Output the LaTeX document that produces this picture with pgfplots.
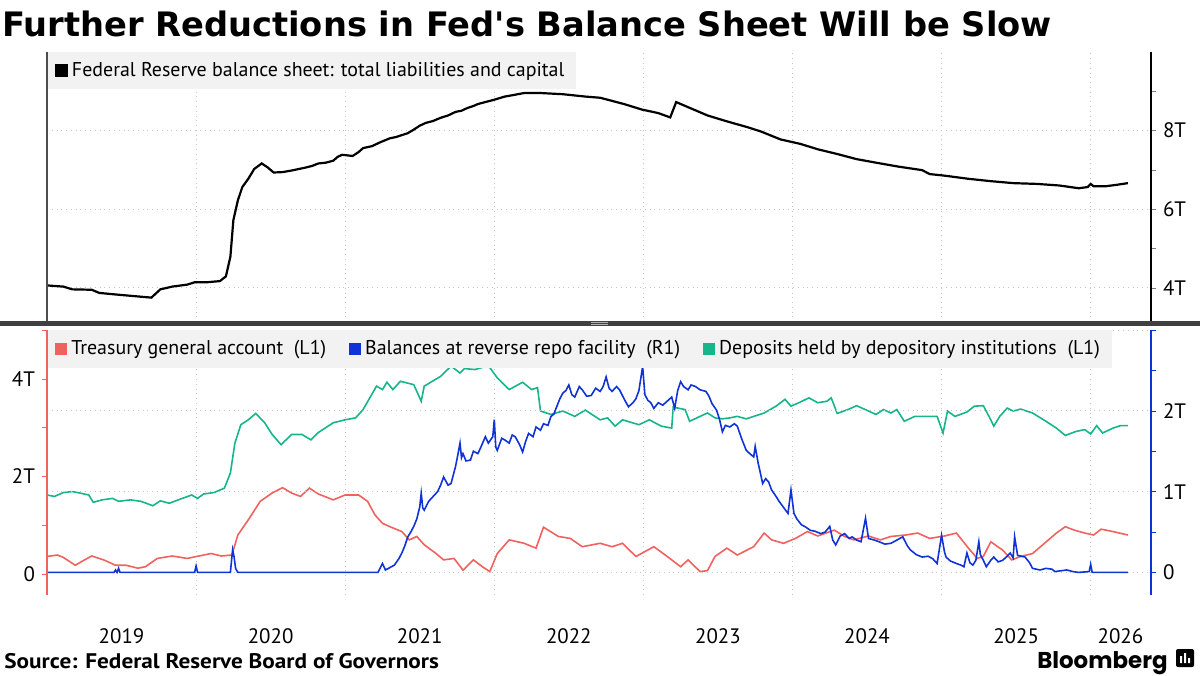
\documentclass[border=0pt]{standalone}
\usepackage{pgfplots}
\pgfplotsset{compat=1.18}
\usepackage{fontspec}
\setmainfont{PT Sans}
\newfontfamily\titlefont{DejaVu Sans}
\newfontfamily\sourcefont{PT Sans}[FakeStretch=1.1]
\newfontfamily\logofont{Poppins}

\definecolor{tga}{HTML}{F0625F}
\definecolor{rrp}{HTML}{0F33D6}
\definecolor{dep}{HTML}{17B58A}
\definecolor{gridc}{HTML}{C4C4C4}
\definecolor{legbg}{HTML}{F2F2F2}

% Fed total liabilities and capital, trillions
\pgfplotstableread{
x y
2019.00 4.06
2019.11 4.03
2019.17 3.96
2019.30 3.95
2019.35 3.87
2019.46 3.83
2019.58 3.79
2019.70 3.75
2019.76 3.96
2019.84 4.03
2019.94 4.08
2019.99 4.14
2020.07 4.14
2020.16 4.17
2020.20 4.29
2020.23 4.79
2020.25 5.72
2020.28 6.22
2020.31 6.56
2020.35 6.77
2020.39 7.02
2020.44 7.16
2020.48 7.06
2020.52 6.93
2020.58 6.94
2020.64 6.98
2020.69 7.02
2020.74 7.06
2020.78 7.10
2020.82 7.16
2020.87 7.18
2020.92 7.23
2020.95 7.33
2020.98 7.38
2021.05 7.35
2021.09 7.45
2021.12 7.55
2021.18 7.60
2021.23 7.69
2021.30 7.80
2021.34 7.83
2021.38 7.88
2021.42 7.93
2021.46 8.02
2021.50 8.12
2021.54 8.19
2021.59 8.24
2021.64 8.32
2021.69 8.38
2021.74 8.47
2021.78 8.50
2021.82 8.57
2021.86 8.62
2021.89 8.67
2021.95 8.73
2022.00 8.78
2022.07 8.86
2022.13 8.90
2022.20 8.95
2022.31 8.95
2022.46 8.92
2022.61 8.86
2022.71 8.83
2022.87 8.67
2022.99 8.53
2023.10 8.44
2023.18 8.33
2023.22 8.72
2023.30 8.59
2023.43 8.38
2023.56 8.23
2023.70 8.08
2023.79 7.97
2023.92 7.77
2024.05 7.66
2024.17 7.52
2024.30 7.40
2024.43 7.27
2024.56 7.18
2024.71 7.08
2024.87 6.99
2024.92 6.89
2025.02 6.85
2025.18 6.77
2025.33 6.71
2025.48 6.66
2025.64 6.64
2025.79 6.60
2025.92 6.53
2025.98 6.56
2026.00 6.64
2026.02 6.58
2026.10 6.58
2026.18 6.62
2026.25 6.66
}\fedtable

% Treasury general account (left axis)
\pgfplotstableread{
x y
2019.00 0.36
2019.07 0.39
2019.11 0.34
2019.19 0.18
2019.24 0.27
2019.30 0.37
2019.38 0.29
2019.46 0.18
2019.53 0.18
2019.61 0.12
2019.66 0.15
2019.74 0.32
2019.84 0.37
2019.94 0.32
2020.02 0.37
2020.10 0.42
2020.17 0.37
2020.24 0.39
2020.28 0.80
2020.35 1.11
2020.43 1.49
2020.51 1.66
2020.58 1.77
2020.64 1.66
2020.70 1.59
2020.76 1.76
2020.82 1.64
2020.92 1.52
2021.00 1.62
2021.09 1.62
2021.15 1.49
2021.20 1.21
2021.25 1.04
2021.30 0.97
2021.38 0.87
2021.43 0.70
2021.48 0.77
2021.53 0.60
2021.61 0.42
2021.66 0.29
2021.73 0.32
2021.79 0.08
2021.86 0.29
2021.92 0.15
2021.97 0.05
2022.02 0.42
2022.10 0.70
2022.20 0.63
2022.28 0.53
2022.33 0.96
2022.43 0.77
2022.51 0.73
2022.59 0.56
2022.71 0.63
2022.79 0.56
2022.86 0.63
2022.95 0.36
2023.07 0.56
2023.16 0.36
2023.25 0.15
2023.30 0.29
2023.38 0.05
2023.43 0.07
2023.48 0.36
2023.56 0.53
2023.63 0.39
2023.74 0.56
2023.81 0.84
2023.86 0.70
2023.94 0.63
2024.02 0.73
2024.10 0.87
2024.17 0.78
2024.28 0.90
2024.35 0.77
2024.41 0.70
2024.51 0.78
2024.59 0.70
2024.66 0.77
2024.76 0.80
2024.84 0.84
2024.92 0.73
2025.02 0.78
2025.10 0.84
2025.18 0.53
2025.24 0.32
2025.28 0.36
2025.33 0.66
2025.41 0.49
2025.47 0.29
2025.53 0.36
2025.61 0.42
2025.69 0.63
2025.77 0.84
2025.83 0.97
2025.89 0.90
2025.96 0.84
2026.02 0.80
2026.07 0.92
2026.15 0.87
2026.25 0.80
}\tgatable

% Deposits held by depository institutions (left axis)
\pgfplotstableread{
x y
2019.00 1.62
2019.05 1.59
2019.11 1.67
2019.17 1.69
2019.22 1.66
2019.28 1.62
2019.31 1.47
2019.37 1.52
2019.44 1.55
2019.48 1.49
2019.56 1.52
2019.63 1.49
2019.71 1.40
2019.76 1.50
2019.82 1.45
2019.89 1.53
2019.97 1.62
2020.01 1.55
2020.05 1.64
2020.12 1.67
2020.19 1.76
2020.23 2.07
2020.26 2.68
2020.30 3.06
2020.35 3.16
2020.40 3.29
2020.46 3.10
2020.51 2.86
2020.57 2.65
2020.64 2.86
2020.71 2.86
2020.77 2.75
2020.82 2.90
2020.92 3.10
2021.00 3.16
2021.07 3.20
2021.12 3.37
2021.21 3.85
2021.25 3.78
2021.28 3.93
2021.32 3.78
2021.37 3.95
2021.46 3.88
2021.51 3.54
2021.53 3.85
2021.64 4.05
2021.71 4.26
2021.77 4.12
2021.80 4.21
2021.87 4.19
2021.95 4.26
2021.97 4.23
2022.02 4.02
2022.10 3.78
2022.19 3.93
2022.25 3.78
2022.29 3.82
2022.31 3.34
2022.38 3.27
2022.46 3.34
2022.54 3.23
2022.61 3.36
2022.71 3.16
2022.76 3.20
2022.81 3.03
2022.86 3.16
2022.97 3.06
2023.04 3.16
2023.12 3.03
2023.19 2.99
2023.20 3.42
2023.28 3.37
2023.31 3.13
2023.38 3.23
2023.43 3.30
2023.48 3.20
2023.53 3.18
2023.58 3.20
2023.63 3.23
2023.69 3.18
2023.74 3.23
2023.81 3.30
2023.89 3.44
2023.95 3.58
2023.99 3.44
2024.05 3.52
2024.11 3.61
2024.17 3.51
2024.23 3.54
2024.26 3.61
2024.30 3.29
2024.38 3.38
2024.43 3.45
2024.51 3.34
2024.56 3.27
2024.61 3.37
2024.66 3.30
2024.70 3.37
2024.75 3.13
2024.82 3.23
2024.89 3.23
2024.97 3.23
2025.01 2.89
2025.04 3.34
2025.09 3.23
2025.17 3.32
2025.22 3.44
2025.28 3.45
2025.33 3.16
2025.35 3.03
2025.39 3.23
2025.44 3.40
2025.48 3.34
2025.53 3.38
2025.61 3.30
2025.70 3.13
2025.77 2.99
2025.83 2.84
2025.90 2.92
2025.96 2.96
2026.00 2.87
2026.04 3.04
2026.08 2.89
2026.15 2.99
2026.20 3.04
2026.25 3.04
}\deptable

% Balances at reverse repo facility (right axis)
\pgfplotstableread{
x y
2019.00 0.00
2019.45 0.00
2019.46 0.03
2019.47 0.00
2019.48 0.05
2019.49 0.00
2019.99 0.00
2020.00 0.08
2020.01 0.00
2020.23 0.00
2020.245 0.28
2020.255 0.19
2020.265 0.05
2020.28 0.00
2021.22 0.00
2021.25 0.11
2021.27 0.03
2021.30 0.06
2021.33 0.09
2021.36 0.17
2021.38 0.24
2021.40 0.33
2021.42 0.44
2021.44 0.50
2021.46 0.57
2021.48 0.66
2021.50 0.81
2021.51 0.98
2021.52 0.80
2021.53 0.77
2021.56 0.88
2021.59 0.94
2021.62 1.00
2021.64 1.08
2021.66 1.18
2021.69 1.08
2021.71 1.10
2021.74 1.31
2021.755 1.45
2021.77 1.60
2021.78 1.42
2021.79 1.47
2021.81 1.38
2021.84 1.39
2021.86 1.50
2021.89 1.47
2021.91 1.55
2021.94 1.68
2021.96 1.60
2021.99 1.68
2022.00 1.89
2022.01 1.55
2022.02 1.51
2022.05 1.66
2022.07 1.64
2022.10 1.60
2022.12 1.70
2022.14 1.68
2022.17 1.58
2022.19 1.49
2022.21 1.62
2022.23 1.72
2022.26 1.68
2022.28 1.80
2022.31 1.76
2022.33 1.84
2022.36 1.82
2022.38 1.93
2022.40 1.96
2022.41 2.01
2022.44 2.15
2022.46 2.22
2022.48 2.25
2022.50 2.32
2022.52 2.20
2022.54 2.17
2022.57 2.30
2022.59 2.26
2022.62 2.18
2022.65 2.19
2022.68 2.28
2022.71 2.24
2022.73 2.30
2022.75 2.42
2022.77 2.28
2022.79 2.24
2022.82 2.30
2022.84 2.26
2022.87 2.15
2022.90 2.05
2022.93 2.10
2022.95 2.15
2022.97 2.25
2022.995 2.55
2023.01 2.20
2023.03 2.13
2023.05 2.10
2023.07 2.03
2023.10 2.10
2023.13 2.07
2023.16 2.12
2023.19 2.17
2023.21 2.03
2023.23 2.25
2023.25 2.36
2023.27 2.30
2023.30 2.26
2023.32 2.32
2023.35 2.30
2023.38 2.26
2023.42 2.24
2023.44 2.18
2023.46 2.09
2023.49 2.01
2023.51 1.90
2023.53 1.74
2023.55 1.82
2023.58 1.80
2023.61 1.84
2023.63 1.81
2023.66 1.65
2023.69 1.51
2023.72 1.46
2023.74 1.43
2023.75 1.56
2023.77 1.35
2023.78 1.27
2023.80 1.10
2023.82 1.16
2023.84 1.12
2023.86 1.02
2023.89 0.94
2023.91 0.88
2023.93 0.83
2023.95 0.78
2023.97 0.73
2023.99 1.02
2024.01 0.73
2024.03 0.66
2024.06 0.59
2024.09 0.56
2024.12 0.52
2024.15 0.51
2024.19 0.48
2024.22 0.50
2024.25 0.57
2024.27 0.40
2024.29 0.34
2024.32 0.45
2024.35 0.48
2024.38 0.42
2024.40 0.44
2024.43 0.40
2024.46 0.38
2024.49 0.67
2024.51 0.42
2024.55 0.40
2024.58 0.38
2024.62 0.35
2024.66 0.36
2024.70 0.40
2024.74 0.44
2024.77 0.33
2024.79 0.28
2024.83 0.22
2024.87 0.19
2024.91 0.20
2024.94 0.17
2024.97 0.11
2025.00 0.46
2025.02 0.25
2025.03 0.19
2025.06 0.14
2025.10 0.11
2025.13 0.09
2025.15 0.07
2025.17 0.24
2025.19 0.12
2025.21 0.09
2025.23 0.15
2025.25 0.38
2025.26 0.22
2025.28 0.15
2025.30 0.07
2025.33 0.15
2025.35 0.19
2025.38 0.13
2025.41 0.15
2025.44 0.20
2025.46 0.24
2025.48 0.18
2025.49 0.44
2025.51 0.21
2025.56 0.19
2025.59 0.12
2025.61 0.05
2025.66 0.03
2025.70 0.05
2025.74 0.04
2025.76 0.01
2025.80 0.02
2025.84 0.03
2025.88 0.01
2025.92 0.00
2025.99 0.01
2026.00 0.10
2026.01 0.00
2026.25 0.00
}\rrptable

\pgfplotsset{
  panel/.style={
    scale only axis, width=552bp,
    xmin=2019, xmax=2026.405,
    axis line style={draw=none},
    xtick={2020,...,2026}, xticklabels={}, xtick style={draw=none},
    xmajorgrids, major grid style={gridc, dotted, line width=0.5bp},
    tick align=outside,
    major tick length=2.5bp, minor tick length=2.5bp,
    yticklabel style={font=\fontsize{10.5}{12}\selectfont},
    legend cell align=left,
    legend image code/.code={\fill[##1] (0bp,-2.6bp) rectangle (5.2bp,2.6bp);},
    legend style={at={(0,1)}, anchor=north west, fill=legbg, draw=none,
      font=\fontsize{10}{12}\selectfont, inner xsep=4bp, inner ysep=3bp},
  }
}

\begin{document}
\begin{tikzpicture}[x=1bp,y=1bp]
\path[use as bounding box] (0,0) rectangle (600,-337.5);

\node[anchor=base west, inner sep=0pt] at (1,-18.4)
  {\titlefont\bfseries\fontsize{16.9}{19}\selectfont Further Reductions in Fed's Balance Sheet Will be Slow};

% top panel
\begin{axis}[panel, at={(23.5bp,-25.85bp)}, anchor=north west, height=135.15bp,
  ymin=3.13, ymax=10,
  ytick={4,6,8}, yticklabels={4T,6T,8T}, minor ytick={5,7,9},
  ytick pos=right, yticklabel pos=right, ymajorgrids]
\addplot[black, line width=1.1bp] table {\fedtable};
\addlegendentry{Federal Reserve balance sheet: total liabilities and capital}
\end{axis}

% bottom panel, left axis
\begin{axis}[panel, at={(23.5bp,-165bp)}, anchor=north west, height=132.5bp,
  ymin=-0.43, ymax=5,
  ytick={0,2,4}, yticklabels={0,2T,4T}, minor ytick={1,3,5},
  ytick pos=left, yticklabel pos=left, y tick style={tga},
  extra x ticks={2019.5,2020.5,2021.5,2022.5,2023.5,2024.5,2025.5,2026.2},
  extra x tick labels={2019,2020,2021,2022,2023,2024,2025,2026},
  extra x tick style={grid=none, tick style={draw=none}},
  xticklabel style={font=\fontsize{10.5}{12}\selectfont, yshift=-11bp}]
\addplot[tga, line width=0.8bp] table {\tgatable};
\addplot[dep, line width=0.8bp] table {\deptable};
\end{axis}

% bottom panel, right axis
\begin{axis}[panel, at={(23.5bp,-165bp)}, anchor=north west, height=132.5bp,
  ymin=-0.28, ymax=3, xmajorgrids=false,
  ytick={0,1,2,3}, yticklabels={0,1T,2T,}, minor ytick={0.5,1.5,2.5},
  ytick pos=right, yticklabel pos=right, ymajorgrids, y tick style={rrp},
  legend columns=3,
  legend style={/tikz/every even column/.append style={column sep=9.5bp}}]
\addlegendimage{tga, line width=0.8bp}
\addlegendentry{Treasury general account\ \ (L1)}
\addplot[rrp, line width=0.8bp] table {\rrptable};
\addlegendentry{Balances at reverse repo facility\ \ (R1)}
\addlegendimage{dep, line width=0.8bp}
\addlegendentry{Deposits held by depository institutions\ \ (L1)}
\end{axis}

% spines and panel separator
\draw[black!70, line width=0.6bp] (23.5,-25.85) -- (23.5,-161);
\draw[black, line width=0.6bp] (575.5,-25.85) -- (575.5,-161);
\draw[tga, line width=0.6bp] (23.5,-165) -- (23.5,-297.5);
\draw[rrp, line width=0.6bp] (575.5,-165) -- (575.5,-297.5);
\fill[black!75] (0,-160.4) rectangle (600,-163);
\draw[white!70!black, line width=0.4bp] (295.5,-161.2) -- (304,-161.2) (295.5,-162.2) -- (304,-162.2);

\node[anchor=base west, inner sep=0pt] at (2,-334)
  {\sourcefont\bfseries\fontsize{10.6}{12}\selectfont Source: Federal Reserve Board of Governors};
\node[anchor=base east, inner sep=0pt] at (584,-334)
  {\logofont\bfseries\fontsize{11.5}{13}\selectfont Bloomberg};
\fill[black, rounded corners=1bp] (588,-333.5) rectangle (597,-324.5);
\fill[white] (590,-331.5) rectangle (591,-328) (592,-331.5) rectangle (593,-326.5) (594,-331.5) rectangle (595,-329);
\end{tikzpicture}
\end{document}
